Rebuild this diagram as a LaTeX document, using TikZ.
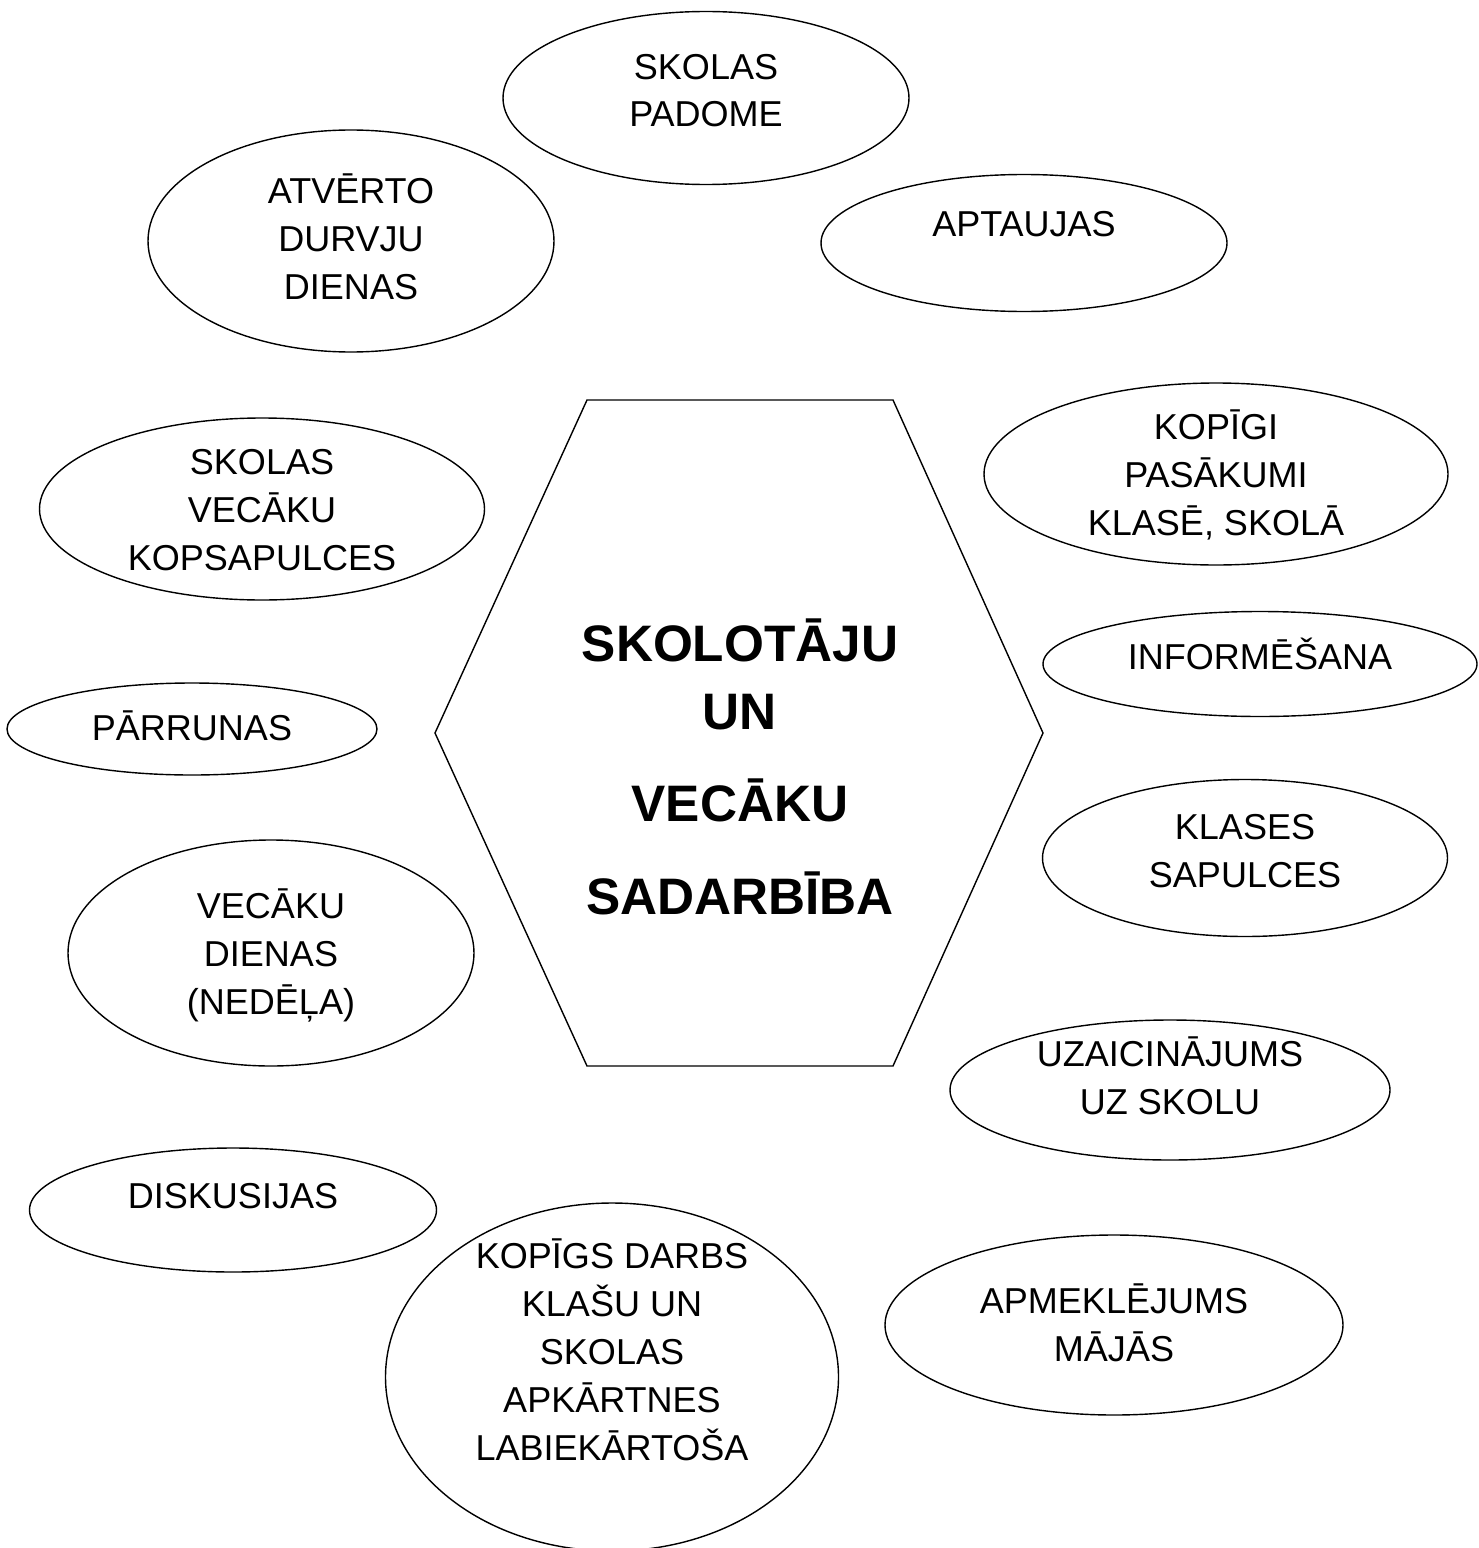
\documentclass[tikz,border=0pt]{standalone}
\usepackage{fontspec}
\setmainfont{Liberation Sans}
\usetikzlibrary{shapes.geometric}
\tikzset{
  bubble/.style={draw, ellipse, inner sep=0pt, line width=0.8pt},
  bubbletext/.style={align=center, anchor=base, font=\fontsize{20.5}{27.3}\selectfont},
  hextext/.style={align=center, anchor=base, font=\bfseries\fontsize{29.2}{38.7}\selectfont}
}
\begin{document}
\begin{tikzpicture}[x=0.02cm, y=-0.02cm]
\useasboundingbox (0,0) rectangle (1478,1548);
% central hexagon
\draw[line width=0.8pt] (587,400) -- (893,400) -- (1043,733) -- (893,1066)
  -- (587,1066) -- (435,733) -- cycle;
\node[hextext] (title) at (740,914) {SKOLOTĀJU\\UN\\[13.7pt]VECĀKU\\[13.7pt]SADARBĪBA};

% ellipses round the hexagon: name/x/y/width/height/last baseline/text
\foreach \n/\x/\y/\w/\h/\t/\txt in {
  padome/706/98/406/173/127/{SKOLAS\\PADOME},
  aptaujas/1024/243/406/137/236/{APTAUJAS},
  durvju/351/241/406/222/299/{ATVĒRTO\\DURVJU\\DIENAS},
  pasakumi/1216/474/464/182/535/{KOPĪGI\\PASĀKUMI\\KLASĒ, SKOLĀ},
  kopsapulces/262/509/445/182/570/{SKOLAS\\VECĀKU\\KOPSAPULCES},
  informesana/1260/664/434/105/669/{INFORMĒŠANA},
  parrunas/192/729/370/92/740/{PĀRRUNAS},
  klases/1245/858/405/157/887/{KLASES\\SAPULCES},
  dienas/271/953/406/226/1014/{VECĀKU\\DIENAS\\(NEDĒĻA)},
  uzaicinajums/1170/1090/440/140/1114/{UZAICINĀJUMS\\UZ SKOLU},
  diskusijas/233/1210/407/124/1208/{DISKUSIJAS},
  darbs/612/1377/453/348/1460/{KOPĪGS DARBS\\KLAŠU UN\\SKOLAS\\APKĀRTNES\\LABIEKĀRTOŠA},
  apmeklejums/1114/1325/458/180/1361/{APMEKLĒJUMS\\MĀJĀS}%
}{
  \node[bubble, minimum width=\w*0.02cm, minimum height=\h*0.02cm] (\n) at (\x,\y) {};
  \node[bubbletext] (\n-txt) at (\x,\t) {\txt};
}
\end{tikzpicture}
\end{document}
